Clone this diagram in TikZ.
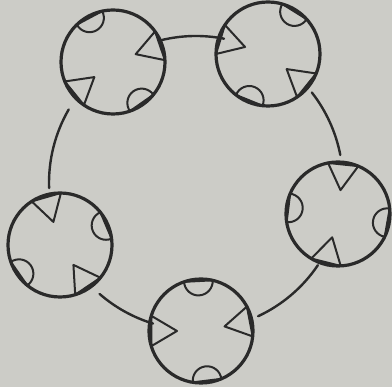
\documentclass[tikz,border=0pt]{standalone}
\usepackage{tikz}
\usetikzlibrary{positioning}
\definecolor{paper}{RGB}{204,204,199}
\definecolor{ink}{RGB}{42,42,42}
% notch on the rim of a ring: #1 node, #2 angle
\newcommand\rimtri[2]{%
  \begin{scope}[shift={(#1.center)},rotate=#2]
    \fill[ink] (17:52) arc[start angle=17,end angle=-17,radius=52] -- cycle;
    \draw[feat] (17:52) -- (24,0) -- (-17:52) -- cycle;
  \end{scope}}
\newcommand\rimsemi[2]{%
  \begin{scope}[shift={(#1.center)},rotate=#2]
    \fill[ink] (16:52) arc[start angle=16,end angle=-16,radius=52] -- cycle;
    \draw[feat] (16:52) arc[start angle=90,end angle=270,radius=14.33] -- cycle;
  \end{scope}}

\begin{document}
\begin{tikzpicture}[x=1pt,y=1pt,
  ring/.style={circle,draw=ink,line width=3.2pt,minimum size=104pt,inner sep=0pt},
  link/.style={draw=ink,line width=2.4pt,line cap=round},
  feat/.style={draw=ink,line width=2pt,line join=round}]
\useasboundingbox (0,0) rectangle (392,387);
\fill[paper] (0,0) rectangle (392,387);
\coordinate (o) at (196,204);
\node[ring] (c1) at (113,325) {};
\node[ring] (c2) at (268,333) {};
\node[ring] (c3) at (338,173) {};
\node[ring] (c4) at (60,142) {};
\node[ring] (c5) at (201,56) {};
% arcs of the big ring, c2-c1, c1-c4, c4-c5, c5-c3, c3-c2
\foreach \s/\e in {79/104,150/182,229/253,-65/-34,11/38}
  \draw[link] ([shift={(\s:147)}]o) arc[start angle=\s,end angle=\e,radius=147];
% notches
\foreach \n/\a in {c1/19,c1/219,c2/163,c2/321,c3/84,c3/256,c4/106,c4/304,c5/180,c5/11}
  \rimtri{\n}{\a};
\foreach \n/\a in {c1/118,c1/-55,c2/58,c2/248,c3/173,c3/350,c4/23,c4/215,c5/93,c5/277}
  \rimsemi{\n}{\a};
\end{tikzpicture}
\end{document}
